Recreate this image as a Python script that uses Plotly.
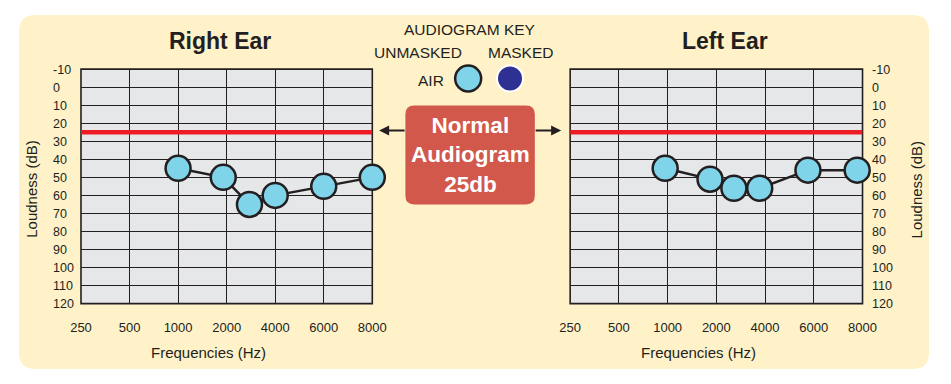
import numpy as np
import plotly.graph_objects as go

# ---- data ----
freq_ticks = [250, 500, 1000, 2000, 4000, 6000, 8000]
freq_labels = ["250", "500", "1000", "2000", "4000", "6000", "8000"]
db_ticks = list(range(-10, 121, 10))
db_labels = [str(v) for v in db_ticks]
normal_threshold = 25

right_ear_freq = [1000, 1930, 2940, 4000, 6000, 8000]
right_ear_db = [45, 50, 65, 60, 55, 50]
left_ear_freq = [975, 1870, 2720, 3780, 5760, 7780]
left_ear_db = [45, 51, 56, 56, 46, 46]

# page has an 8px body margin: make the figure fill the window exactly
OFF = 8
W, H = 951 - 2 * OFF, 384 - 2 * OFF
pos_ticks = list(range(len(freq_ticks)))


def fpos(freqs):
    return np.interp(freqs, freq_ticks, pos_ticks)


def px(x):  # window pixel -> paper
    return (x - OFF) / W


def py(y):
    return 1 - (y - OFF) / H


TXT = "#231F20"
AIR = "#80D4EA"
GRID_BG = "#E6E7E8"
FONT = "Liberation Sans, Arial, Helvetica, sans-serif"

fig = go.Figure()

for xa, ya, freqs, dbs in [("x", "y", right_ear_freq, right_ear_db),
                           ("x2", "y2", left_ear_freq, left_ear_db)]:
    fig.add_trace(go.Scatter(x=[pos_ticks[0], pos_ticks[-1]], y=[normal_threshold] * 2,
                             mode="lines", line=dict(color="#ED1C24", width=4.5),
                             xaxis=xa, yaxis=ya, hoverinfo="skip", showlegend=False))
    fig.add_trace(go.Scatter(x=fpos(freqs), y=dbs, mode="lines+markers",
                             line=dict(color=TXT, width=2.5),
                             marker=dict(size=25, color=AIR, line=dict(color=TXT, width=2.5)),
                             cliponaxis=False, xaxis=xa, yaxis=ya, showlegend=False))

ydom = [py(308), py(64.3)]
common_x = dict(range=[0, 6], tickvals=pos_ticks, ticktext=freq_labels, showgrid=True,
                gridcolor=TXT, gridwidth=1.3, zeroline=False, ticks="outside", ticklen=12,
                tickcolor="rgba(0,0,0,0)", tickfont=dict(size=13, color=TXT),
                showline=False, fixedrange=True)
common_y = dict(range=[120, -10], tickvals=db_ticks, ticktext=db_labels, showgrid=True,
                gridcolor=TXT, gridwidth=1.3, zeroline=False, tickfont=dict(size=12.5, color=TXT),
                showline=False, fixedrange=True, domain=ydom, side="right")

fig.update_layout(
    width=W, height=H, autosize=False,
    margin=dict(l=0, r=0, t=0, b=0),
    paper_bgcolor="white", plot_bgcolor=GRID_BG,
    font=dict(family=FONT, color=TXT),
    xaxis=dict(domain=[px(71.7), px(371)], anchor="y", **common_x),
    xaxis2=dict(domain=[px(574.3), px(874.7)], anchor="y2", **common_x),
    yaxis=dict(anchor="free", position=px(42), ticks="", **common_y),
    yaxis2=dict(anchor="x2", ticks="outside", ticklen=6, tickcolor="rgba(0,0,0,0)", **common_y),
)


def rrect(x0, y0, x1, y1, r):
    # window pixel coords (top-left origin) -> paper path with rounded corners
    X0, X1 = px(x0), px(x1)
    Yt, Yb = py(y0), py(y1)
    rx, ry = r / W, r / H
    return (f"M{X0 + rx},{Yt} L{X1 - rx},{Yt} Q{X1},{Yt} {X1},{Yt - ry} "
            f"L{X1},{Yb + ry} Q{X1},{Yb} {X1 - rx},{Yb} L{X0 + rx},{Yb} "
            f"Q{X0},{Yb} {X0},{Yb + ry} L{X0},{Yt - ry} Q{X0},{Yt} {X0 + rx},{Yt} Z")


shapes = [
    dict(type="path", xref="paper", yref="paper", path=rrect(8, 8, 943, 376, 17),
         fillcolor="#FFF2C8", line=dict(width=0), layer="below"),
    dict(type="path", xref="paper", yref="paper", path=rrect(405, 102, 538, 205, 9),
         fillcolor="#D1584A", line=dict(width=0), layer="above"),
]
for xr, yr in [("x domain", "y domain"), ("x2 domain", "y2 domain")]:
    shapes.append(dict(type="rect", xref=xr, yref=yr, x0=0, x1=1, y0=0, y1=1,
                       fillcolor=GRID_BG, line=dict(color=TXT, width=1.6), layer="below"))
for cx, fill, lc, lw in [(469.5, AIR, TXT, 2.5), (512.5, "#2E3192", "white", 2)]:
    shapes.append(dict(type="circle", xref="paper", yref="paper",
                       xsizemode="pixel", ysizemode="pixel",
                       xanchor=px(cx), yanchor=py(74), x0=-13, x1=13, y0=-13, y1=13,
                       fillcolor=fill, line=dict(color=lc, width=lw), layer="above"))
fig.update_layout(shapes=shapes)


def txt(x, y, s, size, bold=False, color=TXT, xanchor="center", angle=0):
    return dict(x=px(x), y=py(y), xref="paper", yref="paper", text=f"<b>{s}</b>" if bold else s,
                showarrow=False, font=dict(size=size, color=color, family=FONT),
                xanchor=xanchor, yanchor="middle", textangle=angle)


ann = [
    txt(215, 35, "Right Ear", 23, bold=True),
    txt(733, 35, "Left Ear", 23, bold=True),
    txt(471, 23, "AUDIOGRAM KEY", 15.5),
    txt(418, 47, "UNMASKED", 15.5),
    txt(523.5, 47, "MASKED", 15.5),
    txt(447, 76, "AIR", 15.5, xanchor="right"),
    txt(471.5, 154, "Normal<br>Audiogram<br>25db", 22.5, bold=True, color="white"),
    txt(203, 359, "Frequencies (Hz)", 15),
    txt(706, 359, "Frequencies (Hz)", 15),
    txt(20, 189, "Loudness (dB)", 15, angle=-90),
    txt(930, 189, "Loudness (dB)", 15, angle=-90),
    dict(x=px(378), y=py(128), xref="paper", yref="paper", text="", showarrow=True,
         ax=27, ay=0, arrowhead=2, arrowsize=1, arrowwidth=2, arrowcolor=TXT),
    dict(x=px(565), y=py(128), xref="paper", yref="paper", text="", showarrow=True,
         ax=-27, ay=0, arrowhead=2, arrowsize=1, arrowwidth=2, arrowcolor=TXT),
]
fig.update_layout(annotations=ann)

fig.write_html("out.html", config={"displayModeBar": False})
